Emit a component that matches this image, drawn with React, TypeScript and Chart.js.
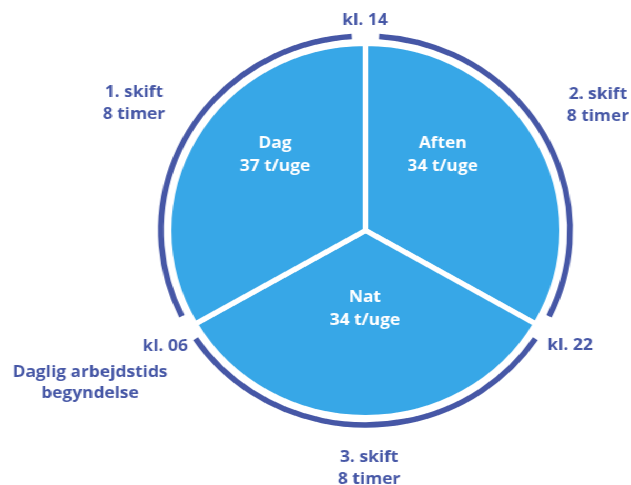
import React, { useEffect, useRef } from 'react';
import { Chart, registerables } from 'chart.js';

Chart.register(...registerables);

// Data
const shifts = ['Aften', 'Nat', 'Dag'];
const shiftHours = [8, 8, 8];
const weeklyHours = ['34 t/uge', '34 t/uge', '37 t/uge'];
const shiftNames = ['2. skift', '3. skift', '1. skift'];
const shiftDurations = ['8 timer', '8 timer', '8 timer'];
const boundaryLabels = ['kl. 14', 'kl. 22', 'kl. 06'];
const startNote = ['Daglig arbejdstids', 'begyndelse'];

// Styles / layout
const W = 600;
const H = 485;
const STRETCH = 631 / 600;
const PIE_BLUE = '#37A7E7';
const DARK = '#4657A6';
const FONT = 'bold 16.5px "Open Sans", sans-serif';

// label anchor positions (chart pixel space)
const innerPos = [
  [421, 143],
  [347, 297],
  [261.5, 143],
];
const shiftPos = [
  [568.6, 94],
  [351, 457],
  [127.4, 92],
];
const boundaryPos: [number, number, CanvasTextAlign][] = [
  [347, 20, 'center'],
  [542, 345, 'center'],
  [157, 346, 'center'],
];
const notePos = [85.6, 372];
const LINE = 22;

const decorPlugin = {
  id: 'decor',
  afterDatasetsDraw(chart: any) {
    const ctx = chart.ctx as CanvasRenderingContext2D;
    const meta = chart.getDatasetMeta(0);
    ctx.save();
    // outer ring with gaps at shift boundaries
    meta.data.forEach((arc: any) => {
      const p = arc.getProps(['x', 'y', 'startAngle', 'endAngle', 'outerRadius'], true);
      const r = p.outerRadius + 7.5;
      const gap = 13 / r;
      ctx.beginPath();
      ctx.arc(p.x, p.y, r, p.startAngle + gap, p.endAngle - gap);
      ctx.strokeStyle = DARK;
      ctx.lineWidth = 5.5;
      ctx.lineCap = 'butt';
      ctx.stroke();
    });
    ctx.font = FONT;
    ctx.textBaseline = 'middle';
    ctx.textAlign = 'center';
    // inner labels
    ctx.fillStyle = '#FFFFFF';
    shifts.forEach((s, i) => {
      const [x, y] = innerPos[i];
      ctx.fillText(s, x, y);
      ctx.fillText(weeklyHours[i], x, y + LINE + 1);
    });
    // outer labels
    ctx.fillStyle = DARK;
    shiftNames.forEach((s, i) => {
      const [x, y] = shiftPos[i];
      ctx.fillText(s, x, y);
      ctx.fillText(shiftDurations[i], x, y + LINE);
    });
    boundaryLabels.forEach((s, i) => {
      const [x, y, a] = boundaryPos[i];
      ctx.textAlign = a;
      ctx.fillText(s, x, y);
    });
    ctx.textAlign = 'center';
    ctx.fillText(startNote[0], notePos[0], notePos[1]);
    ctx.fillText(startNote[1], notePos[0], notePos[1] + 21);
    ctx.restore();
  },
};

export default function App() {
  const ref = useRef<HTMLCanvasElement | null>(null);
  useEffect(() => {
    if (!ref.current) return;
    const chart = new Chart(ref.current, {
      type: 'pie',
      data: {
        labels: shifts,
        datasets: [
          {
            data: shiftHours,
            backgroundColor: PIE_BLUE,
            borderColor: '#FFFFFF',
            borderWidth: 5,
            hoverOffset: 0,
          },
        ],
      },
      options: {
        responsive: false,
        animation: false,
        layout: { padding: { top: 41, bottom: 65, left: 158, right: 63 } },
        plugins: { legend: { display: false }, tooltip: { enabled: false } },
        events: [],
      },
      plugins: [decorPlugin],
    });
    return () => chart.destroy();
  }, []);
  return (
    <div
      style={{
        position: 'absolute',
        left: 0,
        top: 0,
        width: W,
        height: H,
        transform: `scaleX(${STRETCH})`,
        transformOrigin: '0 0',
        background: '#FFFFFF',
      }}
    >
      <canvas ref={ref} width={W} height={H} />
    </div>
  );
}
